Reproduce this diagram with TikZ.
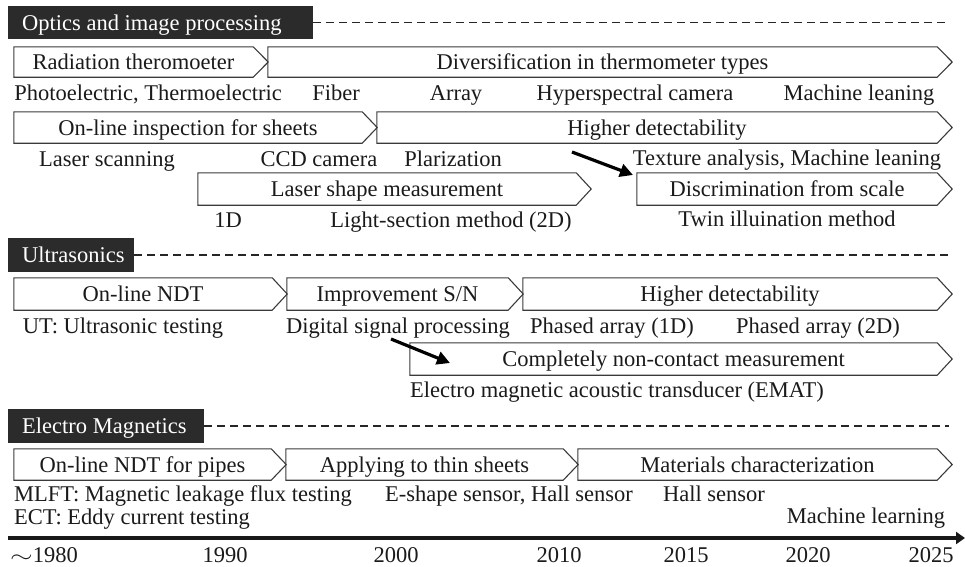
\documentclass[tikz,border=0pt]{standalone}
\usepackage{fontspec}
\setmainfont{Liberation Serif}
\usetikzlibrary{calc,arrows.meta}
\definecolor{hdrc}{HTML}{2B2B2B}
\definecolor{linec}{HTML}{3A3A3A}
\definecolor{txtc}{HTML}{1A1A1A}
\tikzset{
  lbl/.style={inner sep=0pt, text height=15pt, text depth=0pt, text=txtc},
  chevbody/.style={lbl, draw=none},
  chevline/.style={draw=linec, line width=1.1pt, line join=miter},
  hdr/.style={fill=hdrc, text=white, inner xsep=14pt, inner ysep=0pt, text height=15pt, text depth=0pt, anchor=west},
  dashline/.style={draw=black!85, line width=1.5pt, dash pattern=on 8pt off 5pt},
  bigarrow/.style={draw=black, line width=3.2pt, -{Triangle[length=13pt,width=13pt]}},
  axisline/.style={draw=black!90, line width=3.4pt, -{Triangle[length=9pt,width=12pt]}},
}
% name, x0, x1, ytop, ybot, text
\newcommand\chev[6]{%
  \node[chevbody, minimum width={(#3-#2)*1pt}, minimum height={(#5-#4)*1pt}] (#1) at ({(#2+#3)/2},{(#4+#5)/2}) {#6};
  \draw[chevline] (#1.north west) -- (#1.north east) -- ($(#1.east)+(15,0)$) -- (#1.south east) -- (#1.south west) -- cycle;
}
\begin{document}
\begin{tikzpicture}[x=1pt,y=-1pt,font=\fontsize{22.5}{27}\selectfont]
\useasboundingbox (0,0) rectangle (965,566);

% ---------- Optics ----------
\node[hdr, minimum height=33pt] (hO) at (8,22.5) {\makebox[277pt][l]{Optics and image processing}};
\coordinate (dO) at (949,22.5);
\draw[dashline] (hO.east) -- (dO);

\chev{o1a}{14}{253}{47}{77}{Radiation theromoeter}
\chev{o1b}{268}{937}{47}{77}{Diversification in thermometer types}
\node[lbl] (o1l1) at (148,93) {Photoelectric, Thermoelectric};
\node[lbl] (o1l2) at (336,93) {Fiber};
\node[lbl] (o1l3) at (456,93) {Array};
\node[lbl] (o1l4) at (635,93) {Hyperspectral camera};
\node[lbl] (o1l5) at (859,93) {Machine leaning};

\chev{o2a}{14}{362}{112}{143}{On-line inspection for sheets}
\chev{o2b}{377}{937}{112}{143}{Higher detectability}
\node[lbl] (o2l1) at (107,159) {Laser scanning};
\node[lbl] (o2l2) at (319,159) {CCD camera};
\node[lbl] (o2l3) at (453,159) {Plarization};
\node[lbl] (o2l4) at (787,158) {Texture analysis, Machine leaning};

\chev{o3a}{198}{576}{173}{205}{Laser shape measurement}
\chev{o3b}{637}{937}{173}{205}{Discrimination from scale}
\node[lbl] (o3l1) at (228,220) {1D};
\node[lbl] (o3l2) at (451,220) {Light-section method (2D)};
\node[lbl] (o3l3) at (787,219) {Twin illuination method};

\coordinate (a1s) at (572,152);
\coordinate (a1e) at (633,175);
\draw[bigarrow] (a1s) -- (a1e);

% ---------- Ultrasonics ----------
\node[hdr, minimum height=34pt] (hU) at (8,255) {\makebox[98pt][l]{Ultrasonics}};
\coordinate (dU) at (949,255);
\draw[dashline] (hU.east) -- (dU);

\chev{u1a}{14}{272}{278}{310}{On-line NDT}
\chev{u1b}{287}{508}{278}{310}{Improvement S/N}
\chev{u1c}{523}{937}{278}{310}{Higher detectability}
\node[lbl] (u1l1) at (123,326) {UT: Ultrasonic testing};
\node[lbl] (u1l2) at (398,326) {Digital signal processing};
\node[lbl] (u1l3) at (612,326) {Phased array (1D)};
\node[lbl] (u1l4) at (818,326) {Phased array (2D)};

\chev{u2a}{410}{937}{343}{375}{Completely non-contact measurement}
\node[lbl] (u2l1) at (617,390) {Electro magnetic acoustic transducer (EMAT)};

\coordinate (a2s) at (391,339);
\coordinate (a2e) at (450,363);
\draw[bigarrow] (a2s) -- (a2e);

% ---------- Electro Magnetics ----------
\node[hdr, minimum height=34pt] (hE) at (8,426) {\makebox[168pt][l]{Electro Magnetics}};
\coordinate (dE) at (949,426);
\draw[dashline] (hE.east) -- (dE);

\chev{e1a}{14}{271}{449}{480}{On-line NDT for pipes}
\chev{e1b}{286}{563}{449}{480}{Applying to thin sheets}
\chev{e1c}{578}{937}{449}{480}{Materials characterization}
\node[lbl, anchor=west] (e1l1) at (14,494) {MLFT: Magnetic leakage flux testing};
\node[lbl] (e1l2) at (509,494) {E-shape sensor, Hall sensor};
\node[lbl] (e1l3) at (714,494) {Hall sensor};
\node[lbl, anchor=west] (e1l4) at (14,517) {ECT: Eddy current testing};
\node[lbl] (e1l5) at (866,516) {Machine learning};

% ---------- Time axis ----------
\coordinate (axL) at (8,538);
\coordinate (axR) at (965,538);
\draw[axisline] (axL) -- (axR);
\node[lbl, anchor=west] (y1980) at (10,555) {\scalebox{1.4}[1]{$\sim$}1980};
\node[lbl] (y1990) at (225,555) {1990};
\node[lbl] (y2000) at (396,555) {2000};
\node[lbl] (y2010) at (559,555) {2010};
\node[lbl] (y2015) at (686,555) {2015};
\node[lbl] (y2020) at (808,555) {2020};
\node[lbl] (y2025) at (931,555) {2025};
\end{tikzpicture}
\end{document}
